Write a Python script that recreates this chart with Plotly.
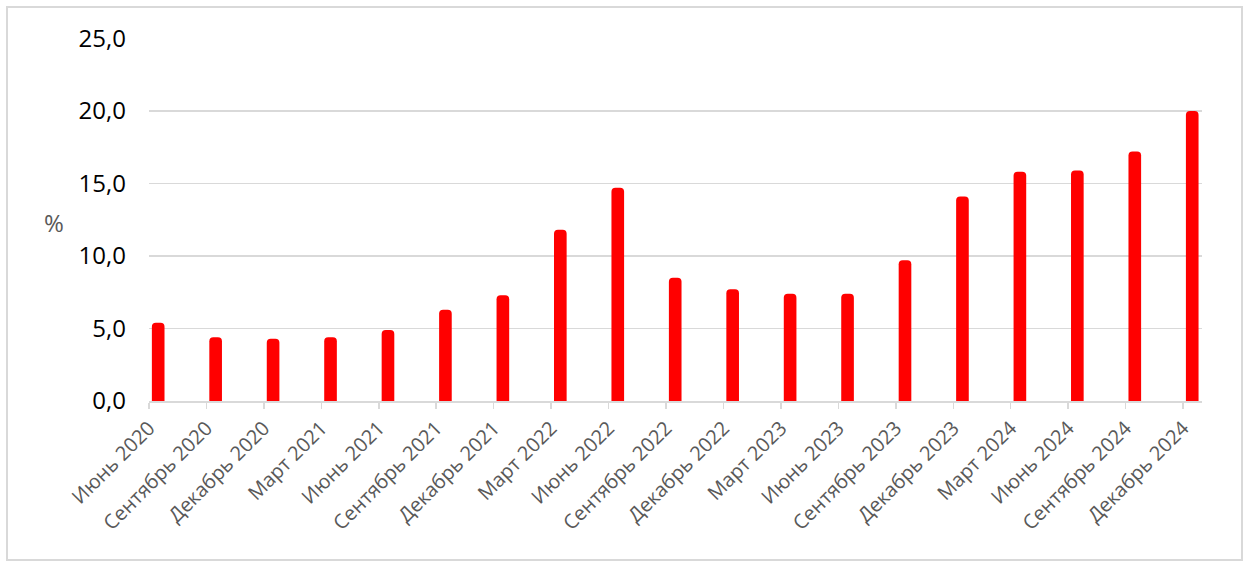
import plotly.graph_objects as go

categories = ["Июнь 2020", "Сентябрь 2020", "Декабрь 2020", "Март 2021", "Июнь 2021",
              "Сентябрь 2021", "Декабрь 2021", "Март 2022", "Июнь 2022", "Сентябрь 2022",
              "Декабрь 2022", "Март 2023", "Июнь 2023", "Сентябрь 2023", "Декабрь 2023",
              "Март 2024", "Июнь 2024", "Сентябрь 2024", "Декабрь 2024"]
values = [5.4, 4.4, 4.3, 4.4, 4.9, 6.3, 7.3, 11.8, 14.7, 8.5,
          7.7, 7.4, 7.4, 9.7, 14.1, 15.8, 15.9, 17.2, 20.0]
y_ticks = [0, 5, 10, 15, 20, 25]

W, H = 1251, 568
L, R, T, B = 149, 49, 38, 167
pw, ph = W - L - R, H - T - B

def px(x):
    return (x - L) / pw

def py(y):
    return (H - B - y) / ph

idx = list(range(len(categories)))

fig = go.Figure(go.Bar(
    x=idx, y=values,
    width=0.22, offset=0.05,
    marker=dict(color="#FF0000", line=dict(width=0)),
    hoverinfo="skip",
))

font_family = "Open Sans, Noto Sans, sans-serif"

fig.update_layout(
    width=W, height=H,
    margin=dict(l=L, r=R, t=T, b=B, autoexpand=False),
    paper_bgcolor="white", plot_bgcolor="white",
    separators=", ",
    barcornerradius=4,
    showlegend=False,
    font=dict(family=font_family),
    xaxis=dict(
        range=[0, 18.33],
        tickmode="array", tickvals=idx, ticktext=categories,
        tickangle=-45,
        tickfont=dict(size=20, color="#595959", family=font_family),
        ticks="outside", ticklen=6, tickcolor="#d9d9d9", tickwidth=1.5,
        showline=True, linecolor="#d9d9d9", linewidth=1.5,
        showgrid=False, zeroline=False,
    ),
    yaxis=dict(
        range=[0, 25.03],
        tickmode="array", tickvals=y_ticks,
        tickformat=".1f",
        tickfont=dict(size=24, color="#000000", family=font_family),
        ticklabelstandoff=22,
        showgrid=True, gridcolor="#d9d9d9", gridwidth=1.5,
        zeroline=False, showline=False, ticks="",
    ),
    shapes=[dict(
        type="rect", xref="paper", yref="paper",
        x0=px(7), x1=px(1242), y0=py(560), y1=py(7),
        line=dict(color="#d9d9d9", width=2), fillcolor="rgba(0,0,0,0)",
        layer="below",
    )],
    annotations=[dict(
        text="%", xref="paper", yref="paper",
        x=px(54), y=py(222),
        showarrow=False, xanchor="center", yanchor="middle",
        font=dict(size=24, color="#595959", family=font_family),
    )],
)

fig.write_html("out.html",
               config={"displayModeBar": False, "staticPlot": True},
               post_script="document.body.style.margin='0';document.body.style.padding='0';")
